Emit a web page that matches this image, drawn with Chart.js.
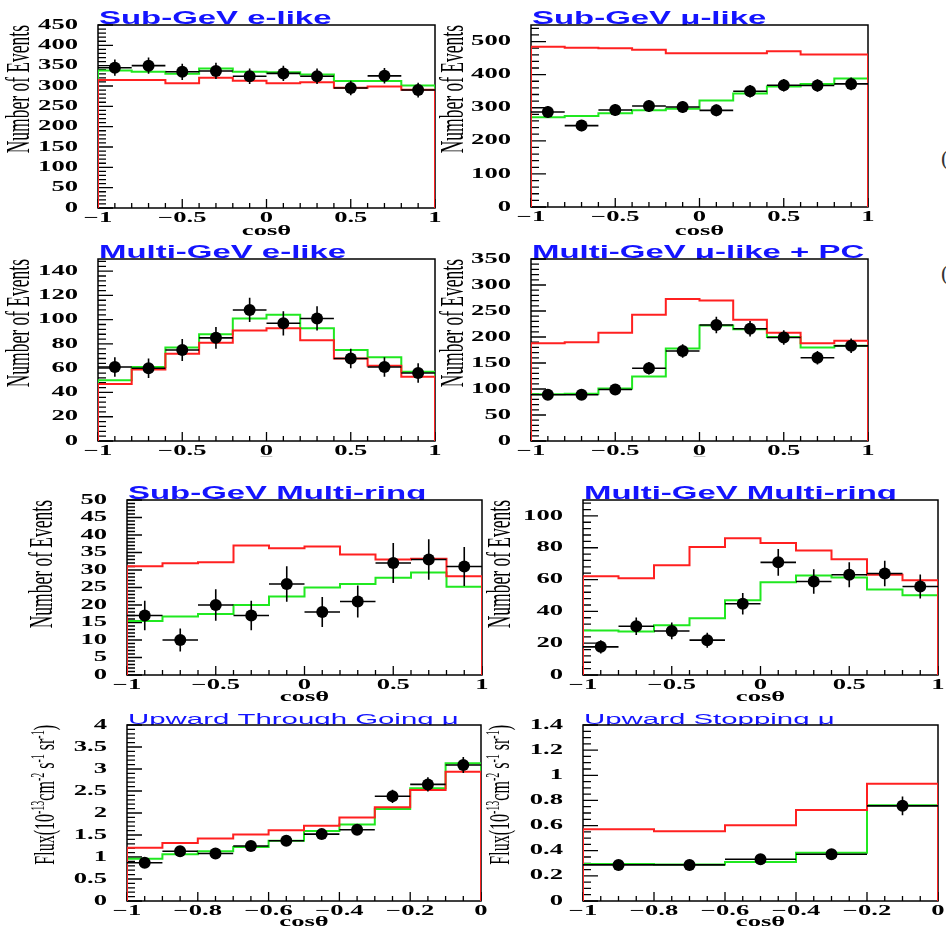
<!DOCTYPE html>
<html>
<head>
<meta charset="utf-8">
<script src="https://cdn.jsdelivr.net/npm/chart.js@4.4.0/dist/chart.umd.min.js"></script>
<style>
  html, body { margin: 0; background: #fff; }
  body { position: relative; width: 946px; height: 936px; overflow: hidden; }
  canvas { position: absolute; }
  .edge { position: absolute; font: 22px "Liberation Serif"; color: #333; line-height: 1; }
</style>
</head>
<body>
<span class="edge" style="left:941px;top:147px">(</span>
<span class="edge" style="left:941px;top:262px">(</span>
<script>
// bin edges and centres in cos(theta)
var fullEdges = [-1, -0.8, -0.6, -0.4, -0.2, 0, 0.2, 0.4, 0.6, 0.8, 1];
var fullCenters = [-0.9, -0.7, -0.5, -0.3, -0.1, 0.1, 0.3, 0.5, 0.7, 0.9];
var thruEdges = [-1, -0.9, -0.8, -0.7, -0.6, -0.5, -0.4, -0.3, -0.2, -0.1, 0];
var thruCenters = [-0.95, -0.85, -0.75, -0.65, -0.55, -0.45, -0.35, -0.25, -0.15, -0.05];
var stopEdges = [-1, -0.8, -0.6, -0.4, -0.2, 0];
var stopCenters = [-0.9, -0.7, -0.5, -0.3, -0.1];

// data, stat error, MC no oscillation (red), MC with oscillation (green)
var subEData = [345, 350, 335, 337, 324, 331, 324, 295, 325, 290];
var subEErr = [20, 20, 20, 20, 19, 19, 19, 18, 19, 18];
var subENoOsc = [315, 315, 307, 320, 313, 307, 309, 296, 299, 291];
var subEOsc = [338, 335, 330, 343, 335, 334, 328, 312, 312, 301];

var subMuData = [287, 246, 293, 305, 302, 292, 350, 368, 367, 372];
var subMuErr = [18, 17, 18, 18, 18, 18, 19, 19, 19, 19];
var subMuNoOsc = [484, 481, 480, 475, 465, 465, 465, 471, 461, 461];
var subMuOsc = [271, 275, 283, 292, 297, 322, 343, 364, 372, 388];

var multiEData = [61, 60, 75, 85, 108, 97, 101, 68, 61, 56];
var multiEErr = [8, 8, 9, 9, 10, 10, 10, 8, 8, 8];
var multiENoOsc = [47, 59, 72, 81, 91, 93, 83, 68, 62, 53];
var multiEOsc = [50, 61, 77, 88, 101, 104, 93, 75, 69, 57];

var multiMuData = [89, 89, 99, 140, 173, 223, 216, 199, 160, 183];
var multiMuErr = [10, 10, 10, 12, 13, 16, 15, 14, 13, 14];
var multiMuNoOsc = [188, 190, 208, 243, 273, 270, 233, 208, 188, 193];
var multiMuOsc = [90, 91, 101, 124, 178, 222, 215, 200, 180, 183];

var subMRData = [17, 10, 20, 17, 26, 18, 21, 32, 33, 31];
var subMRErr = [4.2, 3.3, 4.5, 4.2, 5.1, 4.3, 4.6, 5.7, 5.8, 5.6];
var subMRNoOsc = [31.1, 31.9, 32.2, 37, 36.2, 36.7, 34.4, 33, 33.2, 28.2];
var subMROsc = [15.4, 16.7, 17.4, 20, 22.4, 25, 26, 27.8, 29.3, 25.2];

var multiMRData = [17.7, 30.6, 27.7, 21.9, 44.8, 70.8, 58.8, 63, 63.8, 55.6];
var multiMRErr = [4.2, 5.5, 5.3, 4.7, 6.7, 8.4, 7.7, 7.9, 8, 7.5];
var multiMRNoOsc = [62, 60.8, 69, 80.4, 86, 83, 78.3, 72.7, 63, 59.6];
var multiMROsc = [28, 27.3, 31.3, 35.6, 47, 58.3, 62.5, 61.3, 53.8, 50.2];

var thruData = [0.87, 1.13, 1.08, 1.25, 1.37, 1.52, 1.62, 2.38, 2.65, 3.09];
var thruErr = [0.1, 0.1, 0.1, 0.1, 0.1, 0.11, 0.11, 0.15, 0.16, 0.18];
var thruNoOsc = [1.21, 1.32, 1.42, 1.51, 1.61, 1.71, 1.90, 2.13, 2.52, 2.94];
var thruOsc = [0.96, 1.06, 1.13, 1.23, 1.37, 1.59, 1.74, 2.09, 2.56, 3.13];

var stopData = [0.287, 0.287, 0.332, 0.372, 0.757];
var stopErr = [0.02, 0.02, 0.025, 0.035, 0.075];
var stopNoOsc = [0.571, 0.555, 0.603, 0.723, 0.933];
var stopOsc = [0.295, 0.29, 0.31, 0.383, 0.762];

var evTitle = 'Number of Events';
var fluxTitle = 'Flux(10^{-13}cm^{-2} s^{-1} sr^{-1})';

// layout: box = canvas [left, top, w, h], area = plot frame [left, top, right, bottom]
// axis = [min, max, major step, minor step]
var panels = [
  {title: 'Sub-GeV e-like', box: [0, 0, 460, 242], area: [98, 25, 435, 208],
   xAxis: [-1, 1, 0.5, 0.1], yAxis: [0, 450, 50, 10],
   edges: fullEdges, centers: fullCenters, data: subEData, err: subEErr, noOsc: subENoOsc, osc: subEOsc,
   xTitle: 'cosθ', xTitleY: 231, yTitle: evTitle, yTitleX: 20},
  {title: 'Sub-GeV μ-like', box: [436, 0, 510, 242], area: [531, 25, 868, 207],
   xAxis: [-1, 1, 0.5, 0.1], yAxis: [0, 550, 100, 20],
   edges: fullEdges, centers: fullCenters, data: subMuData, err: subMuErr, noOsc: subMuNoOsc, osc: subMuOsc,
   xTitle: 'cosθ', xTitleY: 231, yTitle: evTitle, yTitleX: 454},
  {title: 'Multi-GeV e-like', box: [0, 240, 460, 232], area: [98, 259, 435, 441],
   xAxis: [-1, 1, 0.5, 0.1], yAxis: [0, 150, 20, 4],
   edges: fullEdges, centers: fullCenters, data: multiEData, err: multiEErr, noOsc: multiENoOsc, osc: multiEOsc,
   xTitle: '_', xTitleY: 452, xTitleSize: 12, xTitleColor: '#aaa', yTitle: evTitle, yTitleX: 20},
  {title: 'Multi-GeV μ-like + PC', box: [436, 240, 510, 232], area: [531, 259, 868, 441],
   xAxis: [-1, 1, 0.5, 0.1], yAxis: [0, 350, 50, 10],
   edges: fullEdges, centers: fullCenters, data: multiMuData, err: multiMuErr, noOsc: multiMuNoOsc, osc: multiMuOsc,
   xTitle: '_', xTitleY: 452, xTitleSize: 12, xTitleColor: '#aaa', yTitle: evTitle, yTitleX: 454},
  {title: 'Sub-GeV Multi-ring', box: [0, 472, 490, 240], area: [127, 500, 482, 675],
   xAxis: [-1, 1, 0.5, 0.1], yAxis: [0, 50, 5, 1],
   edges: fullEdges, centers: fullCenters, data: subMRData, err: subMRErr, noOsc: subMRNoOsc, osc: subMROsc,
   xTitle: 'cosθ', xTitleY: 697, yTitle: evTitle, yTitleX: 43},
  {title: 'Multi-GeV Multi-ring', box: [484, 472, 462, 240], area: [583, 500, 938, 675],
   xAxis: [-1, 1, 0.5, 0.1], yAxis: [0, 110, 20, 4],
   edges: fullEdges, centers: fullCenters, data: multiMRData, err: multiMRErr, noOsc: multiMRNoOsc, osc: multiMROsc,
   xTitle: 'cosθ', xTitleY: 697, yTitle: evTitle, yTitleX: 501},
  {title: 'Upward Through Going μ', small: true, box: [0, 704, 490, 232], area: [127, 725, 481, 901],
   xAxis: [-1, 0, 0.2, 0.05], yAxis: [0, 4, 0.5, 0.1],
   edges: thruEdges, centers: thruCenters, data: thruData, err: thruErr, noOsc: thruNoOsc, osc: thruOsc,
   xTitle: 'cosθ', xTitleY: 922, yTitle: fluxTitle, yTitleX: 46},
  {title: 'Upward Stopping μ', small: true, box: [480, 704, 466, 232], area: [583, 725, 938, 901],
   xAxis: [-1, 0, 0.2, 0.05], yAxis: [0, 1.4, 0.2, 0.05],
   edges: stopEdges, centers: stopCenters, data: stopData, err: stopErr, noOsc: stopNoOsc, osc: stopOsc,
   xTitle: 'cosθ', xTitleY: 922, yTitle: fluxTitle, yTitleX: 501}
];

var RED = '#ff2020', GREEN = '#20e820', BLUE = '#1414ff';

// ROOT-style frame, inward ticks, blue title and rotated y title
var rootStyle = {
  id: 'rootStyle',
  beforeInit: function (chart) {
    // all text on these pads is drawn wide, stretched along the screen x axis
    var ctx = chart.ctx;
    var fill = ctx.fillText.bind(ctx);
    ctx.fillText = function (text, x, y) {
      var m = ctx.getTransform();
      var p = m.transformPoint(new DOMPoint(x, y));
      var sx = ctx.textStretch || 1.9;
      ctx.save();
      ctx.setTransform(new DOMMatrix().translate(p.x, p.y).scale(sx, 1).translate(-p.x, -p.y).multiply(m));
      fill(text, x, y);
      ctx.restore();
    };
  },
  beforeDatasetsDraw: function (chart, args, o) {
    var ctx = chart.ctx, a = chart.chartArea;
    var xs = chart.scales.x, ys = chart.scales.y;

    // title sits on the frame, descenders hidden behind it
    ctx.save();
    ctx.beginPath();
    ctx.rect(0, 0, chart.width, a.top);
    ctx.clip();
    ctx.font = o.small ? '14px "Liberation Sans"' : 'bold 18px "Liberation Sans"';
    ctx.fillStyle = BLUE;
    ctx.textAlign = 'left';
    ctx.textBaseline = 'alphabetic';
    ctx.textStretch = o.small ? 2.1 : 1.83;
    ctx.fillText(o.title, a.left + 1, a.top - 1);
    ctx.restore();

    // y title, rotated and aligned to the top of the axis; ^{..} marks a superscript
    var parts = o.yTitle.split(/\^\{|\}/);
    var base = o.small ? '16px "Liberation Serif"' : '17.5px "Liberation Serif"';
    var sup = '10px "Liberation Serif"';
    ctx.save();
    ctx.translate(o.yTitleX, a.top);
    ctx.rotate(-Math.PI / 2);
    ctx.fillStyle = '#000';
    ctx.textAlign = 'left';
    ctx.textBaseline = 'middle';
    var total = 0;
    parts.forEach(function (s, i) { ctx.font = i % 2 ? sup : base; total += ctx.measureText(s).width; });
    var pos = -total;
    ctx.textStretch = 1.9;
    parts.forEach(function (s, i) {
      ctx.font = i % 2 ? sup : base;
      ctx.fillText(s, pos, i % 2 ? -7 : 0);
      pos += ctx.measureText(s).width;
    });
    ctx.restore();
    ctx.textStretch = 0;

    // frame
    ctx.save();
    ctx.strokeStyle = '#000';
    ctx.lineWidth = 1.5;
    ctx.strokeRect(a.left, a.top, a.right - a.left, a.bottom - a.top);

    // inward ticks on the left and bottom axes
    ctx.lineWidth = 1.3;
    ctx.beginPath();
    var n = Math.floor((ys.max - ys.min) / o.yMinor + 1e-6);
    for (var i = 0; i <= n; i++) {
      var v = ys.min + i * o.yMinor;
      var py = ys.getPixelForValue(v);
      var major = Math.abs(v / o.yStep - Math.round(v / o.yStep)) < 1e-6;
      ctx.moveTo(a.left, py);
      ctx.lineTo(a.left + (major ? 15 : 8), py);
    }
    n = Math.floor((xs.max - xs.min) / o.xMinor + 1e-6);
    for (var j = 0; j <= n; j++) {
      var u = xs.min + j * o.xMinor;
      var px = xs.getPixelForValue(u);
      var big = Math.abs(u / o.xStep - Math.round(u / o.xStep)) < 1e-6;
      ctx.moveTo(px, a.bottom);
      ctx.lineTo(px, a.bottom - (big ? 9 : 5));
    }
    ctx.stroke();
    ctx.restore();
  }
};
Chart.register(rootStyle);

// histogram outline, dropping to zero at both ends
function stepLine(edges, vals) {
  var pts = [{x: edges[0], y: 0}];
  vals.forEach(function (v, i) { pts.push({x: edges[i], y: v}); });
  var last = edges[edges.length - 1];
  pts.push({x: last, y: vals[vals.length - 1]}, {x: last, y: 0});
  return pts;
}

// horizontal bin-width bar and vertical error bar for every point
function errBars(centers, vals, errs, hw) {
  var pts = [];
  centers.forEach(function (c, i) {
    pts.push({x: c - hw, y: vals[i]}, {x: c + hw, y: vals[i]}, {x: c, y: null},
             {x: c, y: vals[i] - errs[i]}, {x: c, y: vals[i] + errs[i]}, {x: c, y: null});
  });
  return pts;
}

function fmt(v) {
  return String(Math.round(v * 1e6) / 1e6).replace('-', '\u2212');
}

function makePanel(p) {
  var cv = document.createElement('canvas');
  cv.width = p.box[2];
  cv.height = p.box[3];
  cv.style.left = p.box[0] + 'px';
  cv.style.top = p.box[1] + 'px';
  document.body.appendChild(cv);

  var bottom = p.box[1] + p.box[3];
  var xtSize = p.xTitleSize || 14;
  var hw = (p.edges[1] - p.edges[0]) / 2;
  var tickFont = {family: 'Liberation Serif', weight: 'bold', size: 14};

  new Chart(cv, {
    type: 'line',
    data: {
      datasets: [
        {data: p.data.map(function (v, i) { return {x: p.centers[i], y: v}; }),
         showLine: false, pointRadius: 6, pointBorderWidth: 0, pointBackgroundColor: '#000', order: 0},
        {data: errBars(p.centers, p.data, p.err, hw), borderColor: '#000', borderWidth: 1.6,
         pointRadius: 0, spanGaps: false, order: 1},
        {data: stepLine(p.edges, p.noOsc), stepped: 'before', borderColor: RED, borderWidth: 2,
         pointRadius: 0, order: 2},
        {data: stepLine(p.edges, p.osc), stepped: 'before', borderColor: GREEN, borderWidth: 2,
         pointRadius: 0, order: 3}
      ]
    },
    options: {
      responsive: false,
      animation: false,
      events: [],
      layout: {padding: {left: 0, top: p.area[1] - p.box[1], right: p.box[0] + p.box[2] - p.area[2], bottom: 0}},
      plugins: {
        legend: {display: false},
        tooltip: {enabled: false},
        rootStyle: {
          title: p.title, small: !!p.small, yTitle: p.yTitle, yTitleX: p.yTitleX - p.box[0],
          xStep: p.xAxis[2], xMinor: p.xAxis[3], yStep: p.yAxis[2], yMinor: p.yAxis[3]
        }
      },
      scales: {
        x: {
          type: 'linear', min: p.xAxis[0], max: p.xAxis[1],
          grid: {display: false, drawTicks: false},
          border: {display: false},
          ticks: {stepSize: p.xAxis[2], callback: fmt, font: tickFont, color: '#000', padding: 2,
                  maxRotation: 0, autoSkip: false},
          title: {display: true, text: p.xTitle, color: p.xTitleColor || '#000',
                  font: {family: 'Liberation Serif', weight: p.xTitleSize ? 'normal' : 'bold', size: xtSize},
                  padding: {top: 0, bottom: bottom - p.xTitleY - xtSize * 0.6}},
          afterFit: function (s) {
            s.height = bottom - p.area[3];
            s.paddingLeft = 0;
            s.paddingRight = 0;
          }
        },
        y: {
          type: 'linear', min: p.yAxis[0], max: p.yAxis[1],
          grid: {display: false, drawTicks: false},
          border: {display: false},
          ticks: {stepSize: p.yAxis[2], callback: fmt, font: tickFont, color: '#000', padding: 20,
                  includeBounds: false, autoSkip: false},
          afterFit: function (s) {
            s.width = p.area[0] - p.box[0];
            s.paddingTop = 0;
            s.paddingBottom = 0;
          }
        }
      }
    }
  });
}

panels.forEach(makePanel);
</script>
</body>
</html>
